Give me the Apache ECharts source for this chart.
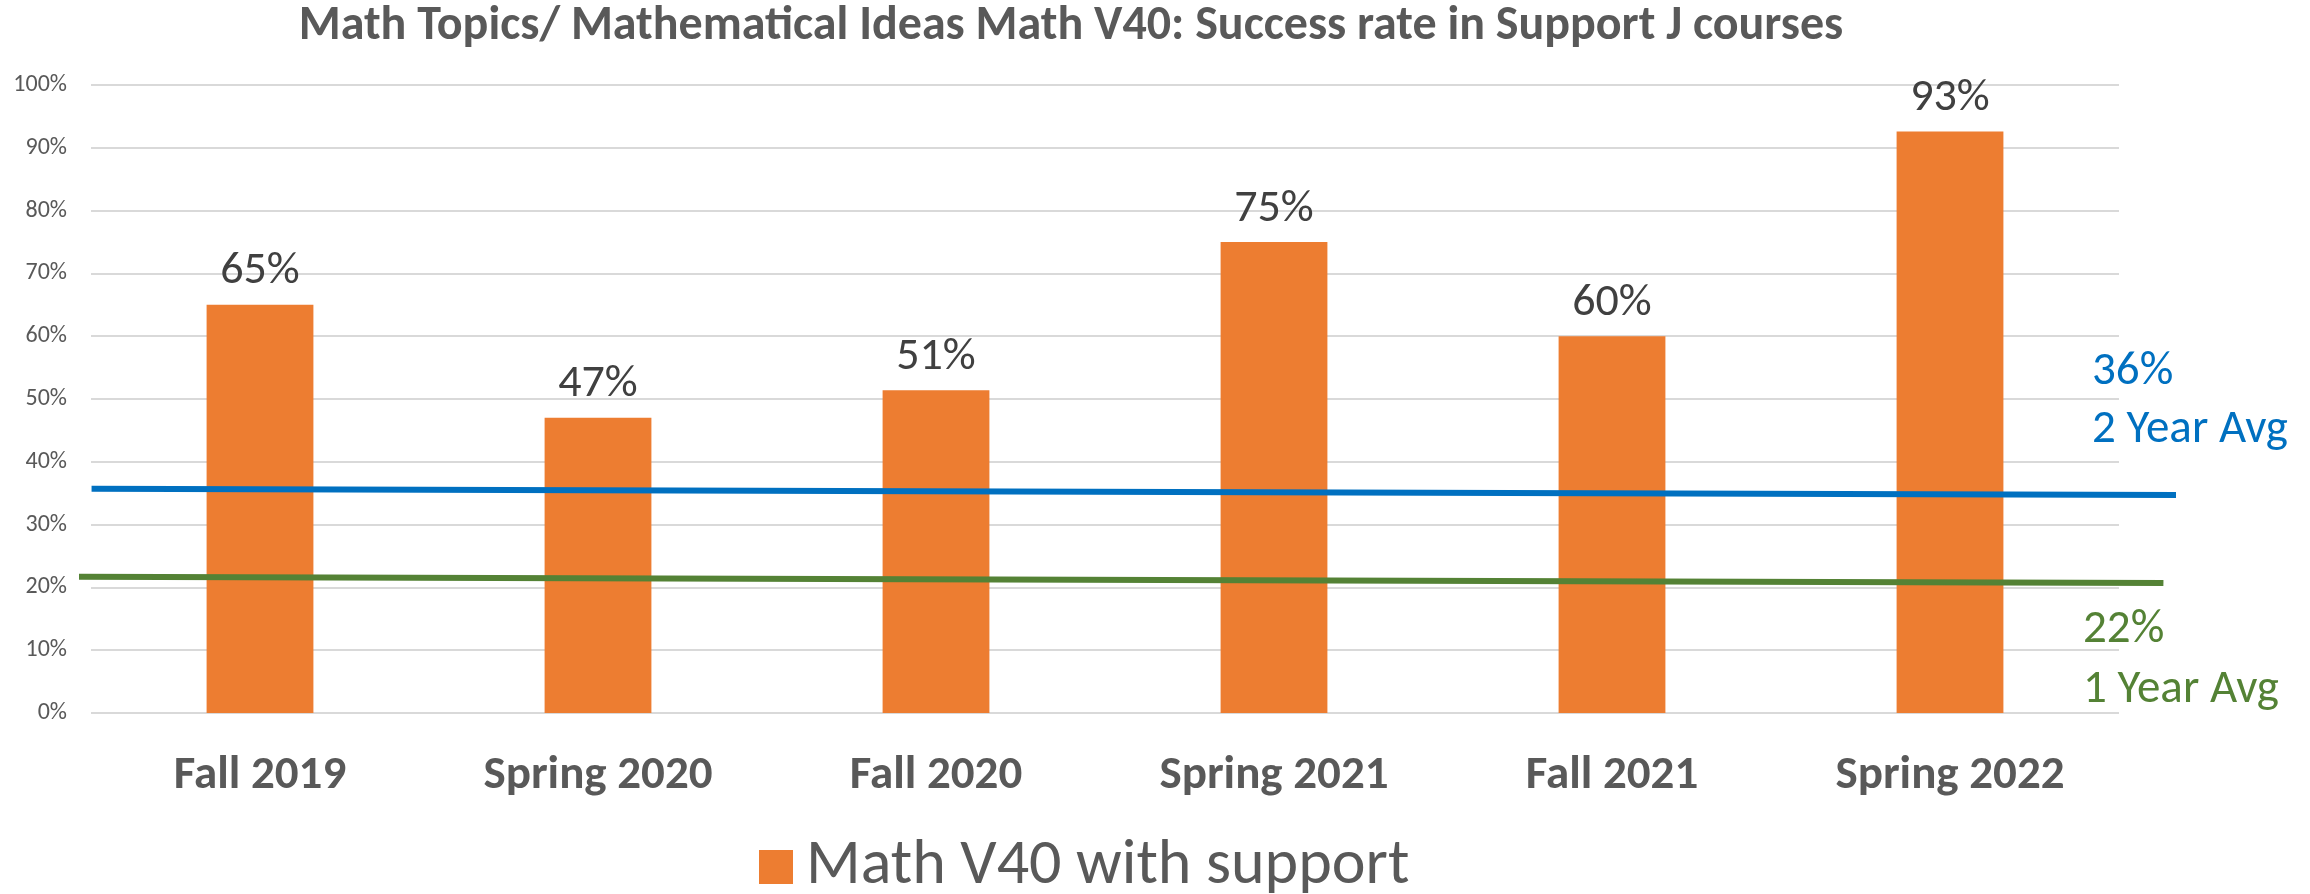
<!DOCTYPE html>
<html style="height: 100%">
    <head>
        <meta charset="utf-8">
    </head>
    <body style="height: 100%; margin: 0">
        <div id="container" style="width: 2310px; height: 894px"></div>

        <script type="text/javascript" src="https://cdn.jsdelivr.net/npm/echarts@6/dist/echarts.min.js"></script>

        <script type="text/javascript">
var terms = ['Fall 2019', 'Spring 2020', 'Fall 2020', 'Spring 2021', 'Fall 2021', 'Spring 2022'];
var successRate = [65, 47, 51.4, 75, 60, 92.6];
var yTicks = [0, 10, 20, 30, 40, 50, 60, 70, 80, 90, 100];
// the two average lines run a little past the plot, so they sit on their own hidden axis (0..100 across)
var twoYearAvg = [[0.6, 35.7], [100, 34.7]];
var oneYearAvg = [[0, 21.7], [99.4, 20.7]];

var FONT = "Carlito, 'Liberation Sans Narrow', 'DejaVu Sans Condensed', sans-serif";

var dom = document.getElementById("container");
var myChart = echarts.init(dom);

var option = {
    backgroundColor: '#ffffff',
    animation: false,
    graphic: [
        {
            type: 'text', x: 1071, y: 27,
            style: {
                text: 'Math Topics/ Mathematical Ideas Math V40: Success rate in Support J courses',
                font: "bold 48px " + FONT, fill: '#595959',
                textAlign: 'center', textVerticalAlign: 'middle'
            }
        },
        { type: 'text', x: 2092, y: 372, style: { text: '36%', font: "47px " + FONT, fill: '#0070c0', textVerticalAlign: 'middle' } },
        { type: 'text', x: 2092, y: 430, style: { text: '2 Year Avg', font: "47px " + FONT, fill: '#0070c0', textVerticalAlign: 'middle' } },
        { type: 'text', x: 2083, y: 630, style: { text: '22%', font: "47px " + FONT, fill: '#548235', textVerticalAlign: 'middle' } },
        { type: 'text', x: 2083, y: 690, style: { text: '1 Year Avg', font: "47px " + FONT, fill: '#548235', textVerticalAlign: 'middle' } }
    ],
    legend: {
        data: ['Math V40 with support'],
        left: 754, top: 830,
        itemWidth: 34, itemHeight: 34, itemGap: 12,
        icon: 'rect',
        textStyle: { fontSize: 64, color: '#595959', fontFamily: FONT, padding: [0, 0, 0, 8] }
    },
    grid: [
        { left: 91, right: 191, top: 85, bottom: 181 },
        { left: 79, right: 134, top: 85, bottom: 181 }
    ],
    xAxis: [
        {
            type: 'category', data: terms, gridIndex: 0,
            axisLine: { show: false }, axisTick: { show: false },
            axisLabel: { margin: 40, fontSize: 47, fontWeight: 'bold', color: '#595959', fontFamily: FONT }
        },
        { type: 'value', gridIndex: 1, min: 0, max: 100, show: false }
    ],
    yAxis: [
        {
            type: 'value', gridIndex: 0, min: 0, max: 100, interval: 10,
            axisLine: { show: false }, axisTick: { show: false },
            splitLine: { lineStyle: { color: '#d9d9d9', width: 2 } },
            axisLabel: {
                margin: 24, fontSize: 24, color: '#595959', fontFamily: FONT,
                formatter: function (v) { return yTicks.indexOf(v) >= 0 ? v + '%' : ''; }
            }
        },
        { type: 'value', gridIndex: 1, min: 0, max: 100, show: false }
    ],
    series: [
        {
            name: 'Math V40 with support', type: 'bar', data: successRate,
            xAxisIndex: 0, yAxisIndex: 0,
            barWidth: '31.6%',
            itemStyle: { color: '#ed7d31' },
            label: {
                show: true, position: 'top', distance: 10,
                fontSize: 46, color: '#404040', fontFamily: FONT,
                formatter: function (p) { return Math.round(p.value) + '%'; }
            }
        },
        {
            name: '2 Year Avg', type: 'line', data: twoYearAvg,
            xAxisIndex: 1, yAxisIndex: 1, symbol: 'none',
            lineStyle: { color: '#0070c0', width: 6 }, z: 5
        },
        {
            name: '1 Year Avg', type: 'line', data: oneYearAvg,
            xAxisIndex: 1, yAxisIndex: 1, symbol: 'none',
            lineStyle: { color: '#548235', width: 6 }, z: 5
        }
    ]
};

myChart.setOption(option);
        </script>
    </body>
</html>
